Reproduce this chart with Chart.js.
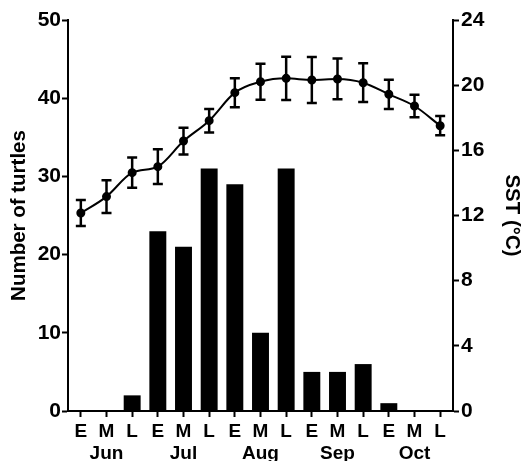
<!DOCTYPE html>
<html>
<head>
<meta charset="utf-8">
<script src="https://cdn.jsdelivr.net/npm/chart.js@4"></script>
<style>
html,body{margin:0;padding:0;background:#fff;}
#wrap{width:522px;height:461px;position:relative;}
</style>
</head>
<body>
<div id="wrap"><canvas id="c" width="522" height="461"></canvas></div>
<script>
const periods = ['E','M','L','E','M','L','E','M','L','E','M','L','E','M','L'];
const months = ['','Jun','','','Jul','','','Aug','','','Sep','','','Oct',''];
const turtles = [0,0,2,23,21,31,29,10,31,5,5,6,1,0,0];
const sst = [12.15,13.16,14.63,15.0,16.57,17.82,19.54,20.21,20.42,20.32,20.38,20.15,19.44,18.72,17.51];
const sstSD = [0.8,1.0,0.93,1.07,0.82,0.72,0.89,1.1,1.33,1.41,1.25,1.19,0.9,0.69,0.59];
const leftTicks = [0,10,20,30,40,50];
const rightTicks = [0,4,8,12,16,20,24];

const labels = periods.map((p,i)=>[p, months[i]]);

const errorBars = {
  id:'errorBars',
  afterDatasetsDraw(chart){
    const meta = chart.getDatasetMeta(0);
    const ys = chart.scales.ySST;
    const ctx = chart.ctx;
    ctx.save();
    ctx.strokeStyle = '#000';
    ctx.lineWidth = 2.5;
    const cap = 5;
    meta.data.forEach((pt,i)=>{
      const x = pt.x;
      const yt = ys.getPixelForValue(sst[i]+sstSD[i]);
      const yb = ys.getPixelForValue(sst[i]-sstSD[i]);
      ctx.beginPath();
      ctx.moveTo(x,yt); ctx.lineTo(x,yb);
      ctx.moveTo(x-cap,yt); ctx.lineTo(x+cap,yt);
      ctx.moveTo(x-cap,yb); ctx.lineTo(x+cap,yb);
      ctx.stroke();
    });
    ctx.restore();
  }
};

const fam = 'Arial, "Liberation Sans", sans-serif';
const font = {family:fam, weight:'bold', size:21};

new Chart(document.getElementById('c'), {
  data:{
    labels: labels,
    datasets:[
      {type:'line', label:'SST', data:sst, yAxisID:'ySST', order:0,
       borderColor:'#000', borderWidth:2, pointRadius:3.5, pointBackgroundColor:'#000',
       pointBorderColor:'#000', cubicInterpolationMode:'monotone', fill:false},
      {type:'bar', label:'Turtles', data:turtles, yAxisID:'yT', order:1,
       backgroundColor:'#000', borderWidth:0, barPercentage:0.66, categoryPercentage:1}
    ]
  },
  plugins:[errorBars],
  options:{
    responsive:false, animation:false,
    layout:{padding:{top:20,left:0,right:0,bottom:0}},
    plugins:{legend:{display:false}, tooltip:{enabled:false}},
    scales:{
      x:{
        offset:true,
        grid:{offset:false, drawOnChartArea:false, drawTicks:true, tickLength:6, tickColor:'#000', tickWidth:2},
        border:{display:true, color:'#000', width:2},
        ticks:{color:'#000', font:{family:fam, weight:'bold', size:19}, padding:3, maxRotation:0, autoSkip:false},
        afterFit(s){ s.height = 50; }
      },
      yT:{
        position:'left', min:0, max:50,
        afterBuildTicks(s){ s.ticks = leftTicks.map(v=>({value:v})); },
        grid:{drawOnChartArea:false, drawTicks:true, tickLength:6, tickColor:'#000', tickWidth:2},
        border:{display:true, color:'#000', width:2},
        ticks:{color:'#000', font:font, padding:1},
        title:{display:true, text:'Number of turtles', color:'#000', font:{family:fam, weight:'bold', size:20.5}, padding:{top:7,bottom:0}},
        afterFit(s){ s.width = 68; }
      },
      ySST:{
        position:'right', min:0, max:24,
        afterBuildTicks(s){ s.ticks = rightTicks.map(v=>({value:v})); },
        grid:{drawOnChartArea:false, drawTicks:true, tickLength:6, tickColor:'#000', tickWidth:2},
        border:{display:true, color:'#000', width:2},
        ticks:{color:'#000', font:font, padding:2},
        title:{display:true, text:'SST (°C)', color:'#000', font:{family:fam, weight:'bold', size:20.5}, padding:{top:-2,bottom:0}},
        afterFit(s){ s.width = 69; }
      }
    }
  }
});
</script>
</body>
</html>
